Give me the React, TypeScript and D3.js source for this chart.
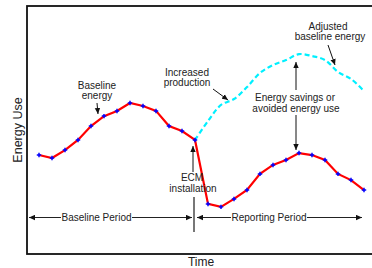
import * as d3 from "d3";

// energy use by period (index 0..25); ECM installed at period 12
const periods = d3.range(26);
const energyUse = [
  39.9, 38.7, 41.9, 46.0, 51.6, 55.6, 57.7, 60.9, 59.7, 57.7, 51.6, 49.6, 46.0,
  20.2, 19.0, 22.2, 25.8, 32.3, 35.9, 37.9, 40.7, 39.9, 37.9, 32.3, 29.8, 25.8,
];
// adjusted baseline (dashed), from period 12 onward
const adjustedStart = 12;
const adjustedBaseline = [
  46.0, 53.6, 60.1, 62.5, 67.3, 73.0, 76.2, 78.2, 80.6, 79.8, 78.2, 73.4, 70.6, 65.7,
];

const W = 372;
const H = 268;
const FONT = "'Liberation Sans', Arial, Helvetica, sans-serif";
const ink = "#222";

type Pt = { i: number; v: number };

export default function App() {
  const frame = { left: 27, top: 6, bottom: 254 };
  const x = d3.scaleLinear().domain([0, 25]).range([39, 364]);
  const y = d3.scaleLinear().domain([0, 100]).range([frame.bottom, frame.top]);

  const actual: Pt[] = periods.map((i) => ({ i, v: energyUse[i] }));
  const adjusted: Pt[] = adjustedBaseline.map((v, k) => ({ i: adjustedStart + k, v }));

  const straight = d3
    .line<Pt>()
    .x((d) => x(d.i))
    .y((d) => y(d.v));
  const smooth = d3
    .line<Pt>()
    .curve(d3.curveCatmullRom.alpha(0.5))
    .x((d) => x(d.i))
    .y((d) => y(d.v));
  const cross = d3.symbol(d3.symbolCross, 11)() ?? "";

  const ecmX = x(adjustedStart);
  const txt = { fontFamily: FONT, fontSize: 10, fill: ink, textAnchor: "middle" as const };

  return (
    <svg
      width={W}
      height={H}
      style={{ position: "fixed", left: 0, top: 0, background: "#fff" }}
    >
      <defs>
        <marker
          id="ah"
          viewBox="0 0 10 10"
          refX="10"
          refY="5"
          markerWidth="6"
          markerHeight="6"
          orient="auto-start-reverse"
        >
          <path d="M0,0.5L10,5L0,9.5z" fill="#111" />
        </marker>
      </defs>
      <rect width={W} height={H} fill="#fff" />

      {/* frame */}
      <rect
        x={frame.left}
        y={frame.top}
        width={360}
        height={frame.bottom - frame.top}
        fill="none"
        stroke="#111"
        strokeWidth={1.8}
      />

      {/* adjusted baseline */}
      <path
        d={smooth(adjusted) ?? ""}
        fill="none"
        stroke="#00f0ff"
        strokeWidth={2.2}
        strokeDasharray="5,3"
      />
      {/* measured energy */}
      <path d={straight(actual) ?? ""} fill="none" stroke="#ff0000" strokeWidth={2.2} />
      {actual.map((d) => (
        <path
          key={d.i}
          d={cross}
          transform={`translate(${x(d.i)},${y(d.v)})`}
          fill="#0000ff"
        />
      ))}

      {/* axis titles */}
      <text
        transform="translate(21.5,130) rotate(-90)"
        fontFamily={FONT}
        fontSize={12.5}
        fill={ink}
        textAnchor="middle"
      >
        Energy Use
      </text>
      <text x={201} y={266} fontFamily={FONT} fontSize={12} fill={ink} textAnchor="middle">
        Time
      </text>

      {/* Baseline energy */}
      <text {...txt} x={97} y={89}>Baseline</text>
      <text {...txt} x={97} y={99}>energy</text>
      <line x1={97} y1={103} x2={98} y2={114} stroke="#111" markerEnd="url(#ah)" />

      {/* Increased production */}
      <text {...txt} x={187} y={76}>Increased</text>
      <text {...txt} x={187} y={86}>production</text>
      <line x1={213} y1={89} x2={228} y2={100} stroke="#111" markerEnd="url(#ah)" />

      {/* Adjusted baseline energy */}
      <text {...txt} x={328} y={30}>Adjusted</text>
      <text {...txt} x={330} y={40}>baseline energy</text>
      <line x1={328} y1={45} x2={335} y2={65} stroke="#111" markerEnd="url(#ah)" />

      {/* Energy savings */}
      <text {...txt} x={295} y={101}>Energy savings or</text>
      <text {...txt} x={296} y={112}>avoided energy use</text>
      <line x1={296} y1={90} x2={296} y2={62} stroke="#111" markerEnd="url(#ah)" />
      <line x1={296} y1={115} x2={296} y2={150} stroke="#111" markerEnd="url(#ah)" />

      {/* ECM installation */}
      <text {...txt} x={192} y={181}>ECM</text>
      <text {...txt} x={193} y={192}>installation</text>
      <line x1={ecmX - 2} y1={172} x2={ecmX - 2} y2={146} stroke="#111" markerEnd="url(#ah)" />
      <line x1={ecmX - 1} y1={197} x2={ecmX - 1} y2={232} stroke="#777" strokeWidth={2} />

      {/* periods */}
      <line x1={29} y1={217.5} x2={61} y2={217.5} stroke="#222" markerStart="url(#ah)" />
      <line x1={132} y1={217.5} x2={192} y2={217.5} stroke="#222" markerEnd="url(#ah)" />
      <text {...txt} x={96.5} y={221}>Baseline Period</text>
      <line x1={197} y1={217.5} x2={231} y2={217.5} stroke="#222" markerStart="url(#ah)" />
      <line x1={307} y1={217.5} x2={362} y2={217.5} stroke="#222" markerEnd="url(#ah)" />
      <text {...txt} x={269} y={221}>Reporting Period</text>
    </svg>
  );
}
